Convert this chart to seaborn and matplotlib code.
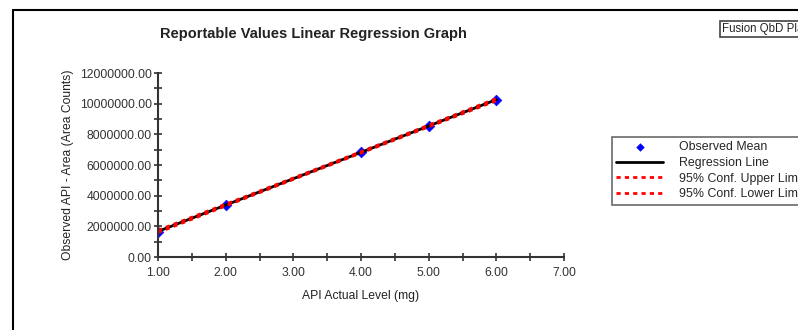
import numpy as np
import pandas as pd
import matplotlib
matplotlib.use("Agg")
import matplotlib.pyplot as plt
from matplotlib.lines import Line2D
from matplotlib.ticker import MultipleLocator, FormatStrFormatter
import seaborn as sns

# observed means
api_level = [1.0, 2.0, 4.0, 5.0, 6.0]
observed_mean = [1650000, 3390000, 6870000, 8540000, 10240000]

sns.set_style("white")
plt.rcParams['font.family'] = ['Liberation Sans', 'DejaVu Sans']

df = pd.DataFrame({"x": api_level, "y": observed_mean})

# least squares fit and 95% confidence band for the mean
x = np.array(api_level)
y = np.array(observed_mean, dtype=float)
slope, intercept = np.polyfit(x, y, 1)
n = len(x)
resid = y - (slope * x + intercept)
s = np.sqrt((resid ** 2).sum() / (n - 2))
t_val = 3.182  # t(0.975, df=3)
xs = np.linspace(1, 6, 60)
fit = slope * xs + intercept
se = s * np.sqrt(1 / n + (xs - x.mean()) ** 2 / ((x - x.mean()) ** 2).sum())
line_df = pd.DataFrame({"x": xs, "fit": fit, "upper": fit + t_val * se, "lower": fit - t_val * se})

fig = plt.figure(figsize=(7.98, 3.30), dpi=100)
ax = fig.add_axes([158 / 798, 73 / 330, 406 / 798, 184 / 330])

sns.lineplot(data=line_df, x="x", y="fit", color="black", lw=2, ax=ax, label="Regression Line")
sns.lineplot(data=line_df, x="x", y="upper", color="red", lw=2, ls=(0, (1.5, 1.5)), ax=ax,
             label="95% Conf. Upper Limit")
sns.lineplot(data=line_df, x="x", y="lower", color="red", lw=2, ls=(0, (1.5, 1.5)), ax=ax,
             label="95% Conf. Lower Limit")
sns.scatterplot(data=df, x="x", y="y", color="blue", marker="D", s=30, edgecolor="blue",
                ax=ax, zorder=1, label="Observed Mean")

ax.set_xlim(1, 7)
ax.set_ylim(0, 12000000)
ax.xaxis.set_major_locator(MultipleLocator(1))
ax.xaxis.set_minor_locator(MultipleLocator(0.5))
ax.yaxis.set_major_locator(MultipleLocator(2000000))
ax.yaxis.set_minor_locator(MultipleLocator(1000000))
ax.xaxis.set_major_formatter(FormatStrFormatter("%.2f"))
ax.yaxis.set_major_formatter(FormatStrFormatter("%.2f"))
ax.tick_params(which="both", direction="inout", length=6, width=1.2, color="#333333",
               labelsize=8.7, labelcolor="#333333", left=True, bottom=True)
ax.tick_params(axis="y", pad=1.5)
ax.tick_params(axis="x", pad=4)
for sp in ["top", "right"]:
    ax.spines[sp].set_visible(False)
for sp in ["left", "bottom"]:
    ax.spines[sp].set_color("#333333")
    ax.spines[sp].set_linewidth(1.5)

ax.set_xlabel("API Actual Level (mg)", fontsize=8.7, color="#222222", labelpad=8)
ax.set_ylabel("Observed API - Area (Area Counts)", fontsize=8.7, color="#222222", labelpad=4)

handles, labels = ax.get_legend_handles_labels()
ax.get_legend().remove()
order = [3, 0, 1, 2]
leg = fig.legend([handles[i] for i in order], [labels[i] for i in order],
                 loc="upper left", bbox_to_anchor=(612 / 798, 1 - 137 / 330),
                 frameon=True, fancybox=False, fontsize=8.9, handlelength=3.8,
                 borderpad=0.35, borderaxespad=0, labelspacing=0.3, handletextpad=1.3,
                 markerscale=0.7)
leg.get_frame().set_edgecolor("#444444")
leg.get_frame().set_linewidth(1.2)

fig.text(313 / 798, 1 - 34 / 330, "Reportable Values Linear Regression Graph",
         ha="center", va="center", fontsize=10.5, fontweight="bold", color="#222222")
fig.text(722 / 798, 1 - 29 / 330, "Fusion QbD Platform", ha="left", va="center", fontsize=8.3,
         bbox=dict(boxstyle="square,pad=0.2", fc="white", ec="#444444", lw=1.2))

# outer frame of the report panel
fig.add_artist(Line2D([13 / 798, 1], [1 - 10 / 330, 1 - 10 / 330], color="black", lw=1.5))
fig.add_artist(Line2D([13 / 798, 13 / 798], [0, 1 - 10 / 330], color="black", lw=1.5))

fig.savefig("out.png", dpi=100)
